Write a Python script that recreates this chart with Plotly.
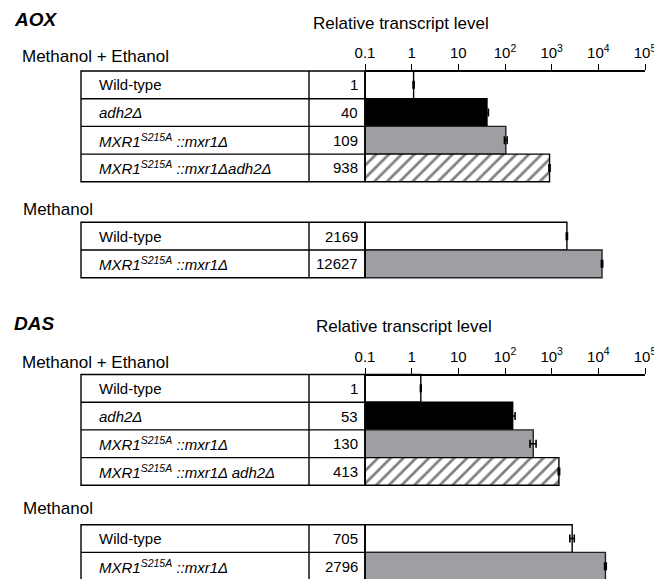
import plotly.graph_objects as go

# ---------------- data ----------------
tick_vals = [0.1, 1, 10, 100, 1000, 10000, 100000]
tick_text = ["0.1", "1", "10", "10<sup>2</sup>", "10<sup>3</sup>", "10<sup>4</sup>", "10<sup>5</sup>"]

strains_me_aox = ["Wild-type", "<i>adh2Δ</i>",
                  "<i>MXR1</i><sup><i>S215A</i></sup><i> ::mxr1Δ</i>",
                  "<i>MXR1</i><sup><i>S215A</i></sup><i> ::mxr1Δadh2Δ</i>"]
strains_me_das = ["Wild-type", "<i>adh2Δ</i>",
                  "<i>MXR1</i><sup><i>S215A</i></sup><i> ::mxr1Δ</i>",
                  "<i>MXR1</i><sup><i>S215A</i></sup><i> ::mxr1Δ adh2Δ</i>"]
strains_m = ["Wild-type", "<i>MXR1</i><sup><i>S215A</i></sup><i> ::mxr1Δ</i>"]

aox_me_numbers = [1, 40, 109, 938]
aox_m_numbers = [2169, 12627]
das_me_numbers = [1, 53, 130, 413]
das_m_numbers = [705, 2796]

aox_me_bars = [1.0, 41, 104, 900]
aox_me_err = [0.03, 3, 7, 25]
aox_m_bars = [2120, 12000]
aox_m_err = [60, 400]
das_me_bars = [1.47, 146, 403, 1430]
das_me_err = [0.03, 18, 60, 50]
das_m_bars = [2750, 14200]
das_m_err = [300, 600]

# ---------------- layout constants (pixels) ----------------
W, H = 654, 579
X_LEFT, X_SEP, X_BASE = 81, 309, 365
DECADE_PX = 280 / 6
LOG_MIN, LOG_MAX = -1, 5.003
X_END = X_BASE + DECADE_PX * (LOG_MAX - LOG_MIN)
ROW_H = 27.7
FONT = "Liberation Sans, Arial, sans-serif"

styles = [
    dict(color="white", line=dict(color="black", width=1.4)),
    dict(color="black", line=dict(color="black", width=1.4)),
    dict(color="#9e9fa3", line=dict(color="#222222", width=1.4)),
    dict(color="white", line=dict(color="black", width=1.4),
         pattern=dict(shape="/", fgcolor="black", bgcolor="white", size=9, solidity=0.3)),
]
m_styles = [styles[0], styles[2]]

fig = go.Figure()
shapes = []
annotations = []

def px(x):
    return x / W

def add_block(top, labels, numbers, bars, errs, sty, xaxis):
    n = len(labels)
    bottom = top + n * ROW_H
    shapes.append(dict(type="rect", xref="paper", yref="y", x0=px(X_LEFT), x1=px(X_BASE),
                       y0=top, y1=bottom, line=dict(color="black", width=1.4), layer="above"))
    shapes.append(dict(type="line", xref="paper", yref="y", x0=px(X_SEP), x1=px(X_SEP),
                       y0=top, y1=bottom, line=dict(color="black", width=1.4), layer="above"))
    for i in range(1, n):
        y = top + i * ROW_H
        shapes.append(dict(type="line", xref="paper", yref="y", x0=px(X_LEFT), x1=px(X_BASE),
                           y0=y, y1=y, line=dict(color="black", width=1.4), layer="above"))
    for i in range(n):
        yc = top + (i + 0.5) * ROW_H
        annotations.append(dict(text=labels[i], xref="paper", yref="y", x=px(97), y=yc,
                                xanchor="left", yanchor="middle", showarrow=False,
                                font=dict(size=15, family=FONT, color="black")))
        annotations.append(dict(text=str(numbers[i]), xref="paper", yref="y", x=px(360), y=yc,
                                xanchor="right", yanchor="middle", showarrow=False,
                                font=dict(size=15, family=FONT, color="black")))
        fig.add_trace(go.Bar(
            x=[bars[i]], y=[yc], base=0.1, orientation="h", width=ROW_H,
            marker=sty[i], xaxis=xaxis, yaxis="y", showlegend=False,
            error_x=dict(type="data", array=[errs[i]], color="black", thickness=1.6, width=4),
        ))
    shapes.append(dict(type="line", xref="paper", yref="y", x0=px(X_BASE), x1=px(X_BASE),
                       y0=top, y1=bottom, line=dict(color="black", width=1.6), layer="above"))

add_block(71, strains_me_aox, aox_me_numbers, aox_me_bars, aox_me_err, styles, "x")
add_block(222.3, strains_m, aox_m_numbers, aox_m_bars, aox_m_err, m_styles, "x")
add_block(374.5, strains_me_das, das_me_numbers, das_me_bars, das_me_err, styles, "x2")
add_block(524.7, strains_m, das_m_numbers, das_m_bars, das_m_err, m_styles, "x2")

def txt(text, x, y, size, anchor="left"):
    annotations.append(dict(text=text, xref="paper", yref="y", x=px(x), y=y,
                            xanchor=anchor, yanchor="middle", showarrow=False,
                            font=dict(size=size, family=FONT, color="black")))

txt("<b><i>AOX</i></b>", 12, 19, 19)
txt("Relative transcript level", 311, 23, 17)
txt("Methanol + Ethanol", 20, 56, 17)
txt("Methanol", 21, 209, 17)
txt("<b><i>DAS</i></b>", 12, 323, 19)
txt("Relative transcript level", 314, 326, 17)
txt("Methanol + Ethanol", 20, 362, 17)
txt("Methanol", 21, 508, 17)

axis_common = dict(
    type="log", range=[LOG_MIN, LOG_MAX], domain=[px(X_BASE), min(1.0, px(X_END))],
    side="top", anchor="free", showline=True, linecolor="black", linewidth=1.6,
    ticks="outside", ticklen=6, tickwidth=1.4, tickcolor="black",
    tickvals=tick_vals, ticktext=tick_text, showgrid=False, zeroline=False,
    tickfont=dict(size=15, family=FONT, color="black"), fixedrange=True,
    automargin=False, ticklabeloverflow="allow",
)

fig.update_layout(
    width=W, height=H, margin=dict(l=0, r=0, t=0, b=0, pad=0, autoexpand=False),
    paper_bgcolor="white", plot_bgcolor="rgba(0,0,0,0)",
    barmode="overlay",
    xaxis=dict(**axis_common, position=1 - 70.7 / H),
    xaxis2=dict(**axis_common, position=1 - 374.5 / H, overlaying="x"),
    yaxis=dict(range=[H, 0], domain=[0, 1], visible=False, fixedrange=True, automargin=False),
    shapes=shapes, annotations=annotations,
)

fig.write_html("out.html", config={"displayModeBar": False},
               post_script="document.body.style.margin='0px';document.body.style.overflow='hidden';")
